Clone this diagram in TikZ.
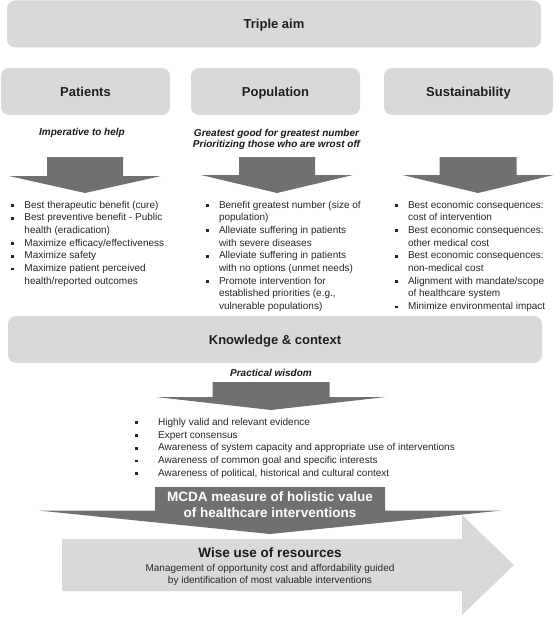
\documentclass[tikz,border=0pt]{standalone}
\usepackage{fontspec}
\setmainfont{Liberation Sans}
\usetikzlibrary{positioning}
\definecolor{boxgray}{RGB}{217,217,217}
\definecolor{arrowgray}{RGB}{112,112,112}
\newcommand{\sqbullet}{\rule[1.2pt]{2.8pt}{2.8pt}}
\tikzset{
  headbox/.style={fill=boxgray, rounded corners=8pt, minimum height=47pt, inner sep=0pt,
    text height=9.4pt, text depth=0pt,
    text=black!88, font=\bfseries\fontsize{13}{15}\selectfont},
  motto/.style={align=center, inner sep=0pt, text=black!90,
    font=\bfseries\itshape\fontsize{10}{11.5}\selectfont},
  itemlist/.style={anchor=north west, inner sep=0pt, text=black!85,
    font=\fontsize{10}{12.7}\selectfont},
  pics/fatarrow/.style n args={4}{code={
    \fill[arrowgray] (-#1,0) -- (#1,0) -- (#1,#3) -- (#2,#3) -- (0,{#3+#4})
      -- (-#2,#3) -- (-#1,#3) -- cycle;
  }}
}

\begin{document}
\begin{tikzpicture}[x=1pt, y=-1pt]
  \useasboundingbox (0,0) rectangle (555,618);
  % the three aims
  \node[headbox, minimum width=534pt] (aim) at (274,24) {Triple aim};
  \node[headbox, minimum width=169pt] (patients) at (85.5,91.5) {Patients};
  \node[headbox, minimum width=169pt] (population) at (275.5,91.5) {Population};
  \node[headbox, minimum width=169pt] (sustain) at (468.5,91.5) {Sustainability};
  \node[motto] (help) at (82,133) {Imperative to help};
  \node[motto] (good) at (276.5,139.5) {Greatest good for greatest number\\Prioritizing those who are wrost off};
  \pic at (85,157) {fatarrow={38}{76}{19}{17}};
  \pic at (277,157) {fatarrow={38}{76}{18}{18}};
  \pic at (478,157) {fatarrow={38.5}{75.5}{18}{18}};
  % criteria lists
  \node[itemlist] (patlist) at (11,199) {\begin{tabular}{@{}l@{\hspace{10.5pt}}l@{}}
    \sqbullet & Best therapeutic benefit (cure)\\
    \sqbullet & Best preventive benefit - Public\\
              & health (eradication)\\
    \sqbullet & Maximize efficacy/effectiveness\\
    \sqbullet & Maximize safety\\
    \sqbullet & Maximize patient perceived\\
              & health/reported outcomes
  \end{tabular}};
  \node[itemlist] (poplist) at (205.5,199) {\begin{tabular}{@{}l@{\hspace{10.5pt}}l@{}}
    \sqbullet & Benefit greatest number (size of\\
              & population)\\
    \sqbullet & Alleviate suffering in patients\\
              & with severe diseases\\
    \sqbullet & Alleviate suffering in patients\\
              & with no options (unmet needs)\\
    \sqbullet & Promote intervention for\\
              & established priorities (e.g.,\\
              & vulnerable populations)
  \end{tabular}};
  \node[itemlist] (suslist) at (394.5,199) {\begin{tabular}{@{}l@{\hspace{10.5pt}}l@{}}
    \sqbullet & Best economic consequences:\\
              & cost of intervention\\
    \sqbullet & Best economic consequences:\\
              & other medical cost\\
    \sqbullet & Best economic consequences:\\
              & non-medical cost\\
    \sqbullet & Alignment with mandate/scope\\
              & of healthcare system\\
    \sqbullet & Minimize environmental impact
  \end{tabular}};
  % knowledge and context
  \node[headbox, minimum width=534pt] (knowledge) at (275,339.5) {Knowledge \& context};
  \node[motto] (wisdom) at (271,372.7) {Practical wisdom};
  \pic at (271,382) {fatarrow={58.5}{115}{15}{13}};
  \node[itemlist] (knowlist) at (134.6,416.4) {\begin{tabular}{@{}l@{\hspace{20.6pt}}l@{}}
    \sqbullet & Highly valid and relevant evidence\\
    \sqbullet & Expert consensus\\
    \sqbullet & Awareness of system capacity and appropriate use of interventions\\
    \sqbullet & Awareness of common goal and specific interests\\
    \sqbullet & Awareness of political, historical and cultural context
  \end{tabular}};
  % wise use and MCDA
  \fill[boxgray] (62,539) -- (462,539) -- (462,515) -- (514,565) -- (462,615)
    -- (462,591) -- (62,591) -- cycle;
  \pic at (270,487) {fatarrow={115}{232}{23.5}{23.5}};
  \node[align=center, inner sep=0pt, text=white, font=\bfseries\fontsize{13.5}{15.7}\selectfont]
    (mcda) at (270,505) {MCDA measure of holistic value\\of healthcare interventions};
  \node[inner sep=0pt, text=black!90, font=\bfseries\fontsize{13.5}{15}\selectfont]
    (wise) at (270,552.7) {Wise use of resources};
  \node[align=center, inner sep=0pt, text=black!85, font=\fontsize{10}{11.4}\selectfont]
    (wisetext) at (270,575) {Management of opportunity cost and affordability guided\\by identification of most valuable interventions};
\end{tikzpicture}
\end{document}
